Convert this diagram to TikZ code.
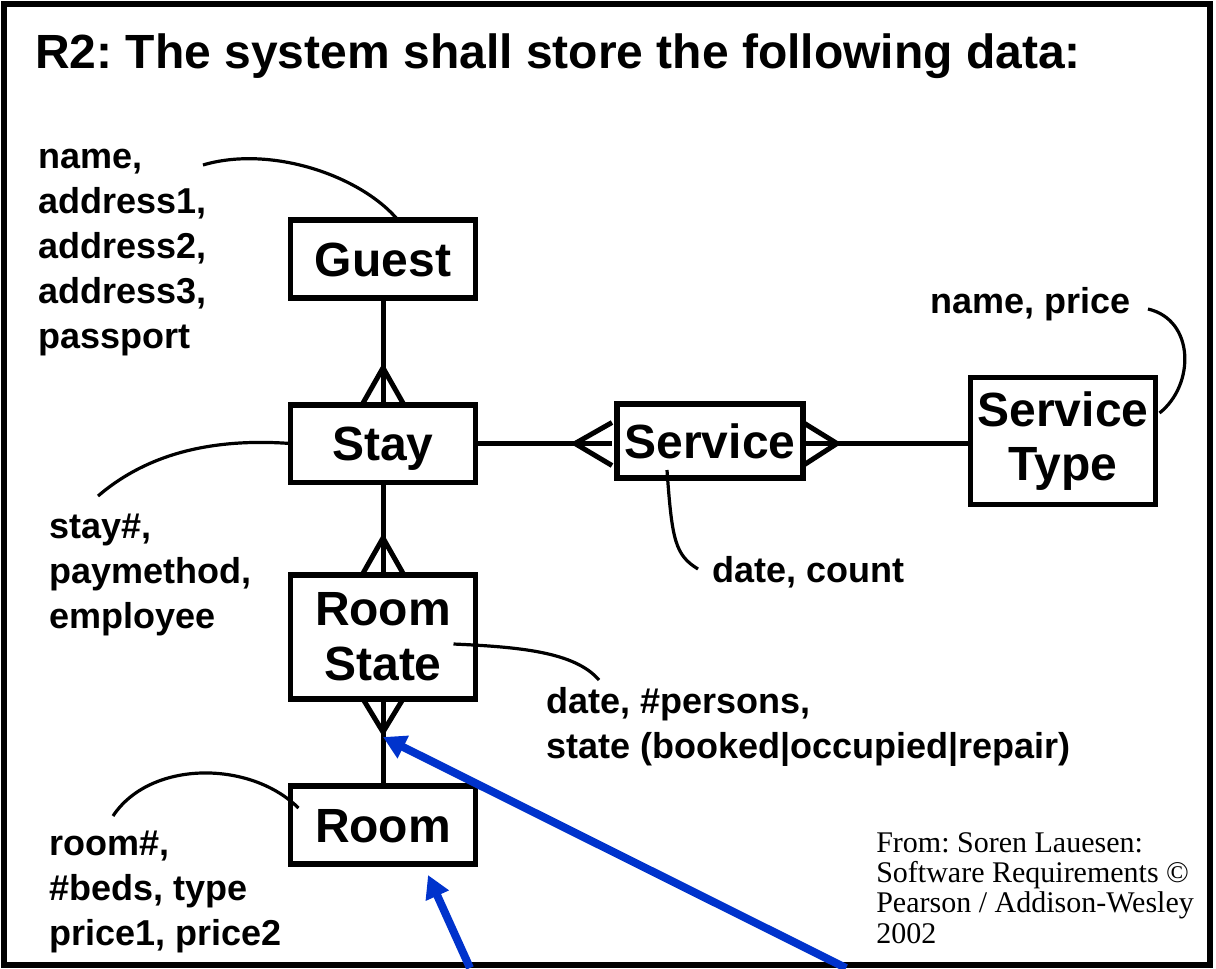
\documentclass[tikz,border=0pt]{standalone}
\usepackage{fontspec}
\setmainfont{Liberation Sans}
\newfontfamily\citefont{Liberation Serif}
\usetikzlibrary{arrows.meta,calc}
\definecolor{arrowblue}{RGB}{0,51,204}
\frenchspacing
\begin{document}
\begin{tikzpicture}[x=0.75pt,y=-0.75pt,
  ent/.style={draw, line width=4pt, inner sep=2pt, outer sep=0pt, minimum width=138.75pt,
    font=\fontsize{36}{41}\selectfont\bfseries, align=center},
  one/.style={text height=25.8pt, text depth=0pt},
  attr/.style={anchor=base west, inner sep=0pt, align=left, font=\fontsize{27}{33.4}\selectfont\bfseries},
  rel/.style={line width=3.75pt},
  crow/.style={line width=3.75pt, line join=miter},
  note/.style={line width=2.4pt},
  hint/.style={draw=arrowblue, line width=6pt, -{Triangle[length=17pt,width=18pt]}}
]
\useasboundingbox (0,0) rectangle (1216,968);
\draw[line width=4.5pt] (4,3.5) rectangle (1210,965);

\node[anchor=base west, inner sep=0pt, font=\fontsize{36}{40}\selectfont\bfseries] (title) at (35,68)
  {R2: The system shall store the following data:};

% entities
\node[ent, one, minimum height=58.5pt] (guest) at (383,259) {Guest};
\node[ent, one, minimum height=58pt] (stay) at (383,443.5) {Stay};
\node[ent, minimum height=93pt] (rs) at (383,637) {Room\\State};
\node[ent, one, minimum height=58.5pt] (room) at (383,825) {Room};
\node[ent, one, minimum width=139.5pt, minimum height=55.5pt] (service) at (710,441) {Service};
\node[ent, minimum height=95.25pt] (stype) at (1063,441) {Service\\Type};

% relationships with crow's feet
\draw[rel] (guest.south) -- (stay.north);
\draw[crow] ($(stay.north)+(-21,0)$) -- ($(stay.north)+(0,-37)$) -- ($(stay.north)+(21,0)$);

\draw[rel] (stay.south) -- (rs.north);
\draw[crow] ($(rs.north)+(-21,0)$) -- ($(rs.north)+(0,-37)$) -- ($(rs.north)+(21,0)$);

\draw[rel] (rs.south) -- (room.north);
\draw[crow] ($(rs.south)+(-20,0)$) -- ($(rs.south)+(0,33)$) -- ($(rs.south)+(20,0)$);

\coordinate (sl) at (stay.east -| service.west);
\draw[rel] (stay.east) -- ($(sl)+(-5,0)$);
\draw[crow] ($(sl)+(-5,-21)$) -- ($(sl)+(-42,0)$) -- ($(sl)+(-5,22)$);

\coordinate (sr) at (stay.east -| service.east);
\draw[rel] (sr) -- (sr -| stype.west);
\draw[crow] ($(sr)+(0,-21)$) -- ($(sr)+(34,0)$) -- ($(sr)+(0,22)$);

% attribute texts (anchored at the baseline of their last line)
\node[attr, font=\fontsize{27}{33.75}\selectfont\bfseries] (gattr) at (38,348) {name,\\address1,\\address2,\\address3,\\passport};
\node[attr] (sattr) at (49,628) {stay\#,\\paymethod,\\employee};
\node[attr] (rattr) at (49,945) {room\#,\\\#beds, type\\price1, price2};
\node[attr] (stattr) at (930,313) {name, price};
\node[attr] (svattr) at (712,582) {date, count};
\node[attr] (rsattr) at (546,758) {date, \#persons,\\state (booked|occupied|repair)};

\node[anchor=base west, inner sep=0pt, align=left, font=\citefont\fontsize{22.5}{22.75}\selectfont] (cite) at (876,943)
  {From: Soren Lauesen:\\Software Requirements ©\\Pearson / Addison-Wesley\\2002};

% attribute curves
\coordinate (g1) at (203,165);
\draw[note] (g1) .. controls (270,145) and (360,175) .. ($(guest.north)+(15,0)$);
\coordinate (s1) at (98,496);
\draw[note] (stay.west) .. controls (200,437) and (140,460) .. (s1);
\coordinate (r1) at (113,816);
\draw[note] (r1) .. controls (150,760) and (250,760) .. ($(room.west)+(8,-17)$);
\coordinate (rs1) at (599,680);
\draw[note] ($(rs.east)+(-22,7)$) .. controls (520,647) and (575,652) .. (rs1);
\coordinate (sv1) at (698,569);
\draw[note] ($(service.south)+(-43,-8)$) .. controls (672,540) and (675,555) .. (sv1);
\coordinate (st1) at (1148,309);
\draw[note] (st1) .. controls (1195,320) and (1195,385) .. ($(stype.east)+(4,-28)$);

% blue arrows
\coordinate (a1s) at (846,968);
\coordinate (a1t) at ($(rs.south)+(0,38)$);
\draw[hint] (a1s) -- (a1t);
\coordinate (a2s) at (470,968);
\coordinate (a2t) at ($(room.south)+(45,11)$);
\draw[hint] (a2s) -- (a2t);
\end{tikzpicture}
\end{document}
